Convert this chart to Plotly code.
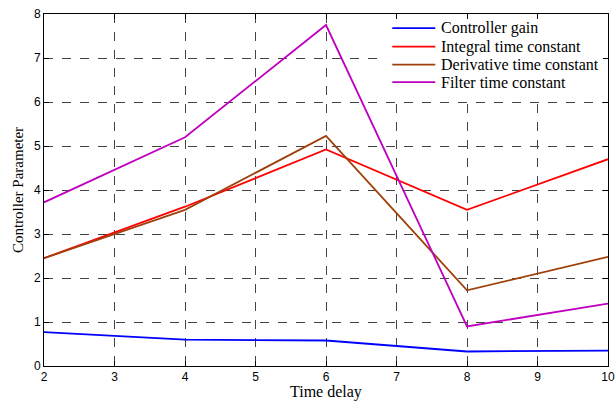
import plotly.graph_objects as go

time_delay = [2, 4, 6, 8, 10]
controller_gain = [0.77, 0.60, 0.58, 0.33, 0.35]
integral_tc = [2.45, 3.62, 4.92, 3.55, 4.70]
derivative_tc = [2.45, 3.55, 5.23, 1.72, 2.48]
filter_tc = [3.72, 5.20, 7.75, 0.90, 1.42]

series_names = ["Controller gain", "Integral time constant",
                "Derivative time constant", "Filter time constant"]
series_values = [controller_gain, integral_tc, derivative_tc, filter_tc]
series_colors = ["#0000FF", "#FF0000", "#A0400A", "#BF00BF"]

fig = go.Figure()
for name, vals, col in zip(series_names, series_values, series_colors):
    fig.add_trace(go.Scatter(x=time_delay, y=vals, mode="lines", name=name,
                             showlegend=False,
                             line=dict(color=col, width=1.8)))

# Legend: white box covering grid, sample lines and labels (axis-unit placement)
shapes = [dict(type="rect", xref="x", yref="y", x0=6.80, x1=9.985,
               y0=6.12, y1=7.98, fillcolor="white", line=dict(width=0),
               layer="between")]
annotations = []
row_y = [7.68, 7.26, 6.85, 6.45]
for name, col, ry in zip(series_names, series_colors, row_y):
    shapes.append(dict(type="line", xref="x", yref="y", x0=6.94, x1=7.55,
                       y0=ry, y1=ry, line=dict(color=col, width=1.8), layer="above"))
    annotations.append(dict(xref="x", yref="y", x=7.60, y=ry, text=name,
                            showarrow=False, xanchor="left", yanchor="middle",
                            font=dict(family="Liberation Serif, Times New Roman",
                                      size=16, color="black")))
annotations.append(dict(xref="paper", yref="paper", x=0.5, y=-0.074, text="Time delay",
                        showarrow=False, xanchor="center", yanchor="middle",
                        font=dict(family="Liberation Serif, Times New Roman",
                                  size=16, color="black")))

axis_common = dict(
    showline=True, linecolor="black", linewidth=1, mirror="ticks",
    ticks="inside", ticklen=5, tickcolor="black",
    showgrid=True, gridcolor="#444", griddash="dash", gridwidth=1,
    zeroline=False, ticklabeloverflow="allow", automargin=False,
    tickfont=dict(family="Liberation Sans, Arial", size=12, color="black"),
)

fig.update_layout(
    width=616, height=401,
    margin=dict(l=44, r=8, t=14, b=35),
    paper_bgcolor="white", plot_bgcolor="white",
    showlegend=False,
    shapes=shapes,
    annotations=annotations,
    xaxis=dict(range=[2, 10], dtick=1, **axis_common),
    yaxis=dict(range=[0, 8], dtick=1, **axis_common,
               title=dict(text="Controller Parameter", standoff=6,
                          font=dict(family="Liberation Serif, Times New Roman", size=15, color="black"))),
)

fig.write_html("out.html")
